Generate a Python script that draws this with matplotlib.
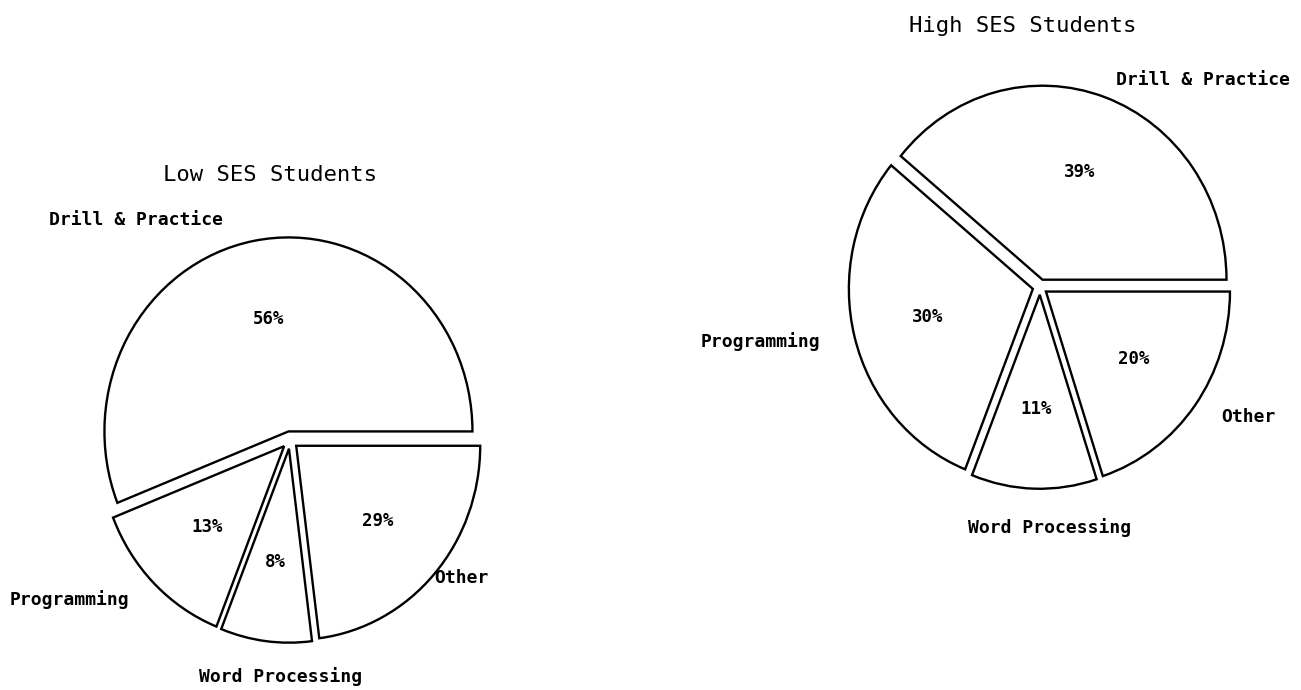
import numpy as np
import matplotlib
matplotlib.use("Agg")
import matplotlib.pyplot as plt

# data
categories = ["Drill & Practice", "Programming", "Word Processing", "Other"]
low_values = [56, 13, 8, 23]
low_pct_labels = ["56%", "13%", "8%", "29%"]
high_values = [39, 30, 11, 20]
high_pct_labels = ["39%", "30%", "11%", "20%"]

W, H = 1301, 690
plt.rcParams['font.family'] = ['DejaVu Sans Mono']

fig = plt.figure(figsize=(W / 100, H / 100), dpi=100)
fig.patch.set_facecolor("white")

rx, ry = 184, 194   # pie radius in pixels (slightly taller than wide)
lim = 1.2


def pie_axes(cx, cy):
    # axes in pixel units so that one data unit = rx px across and ry px up
    w = 2 * lim * rx
    h = 2 * lim * ry
    return fig.add_axes([(cx - w / 2) / W, (H - cy - h / 2) / H, w / W, h / H])


def draw_pie(ax, values, pct_labels, explode):
    wedges, _ = ax.pie(values, startangle=0, counterclock=True,
                       explode=[explode] * len(values),
                       wedgeprops=dict(facecolor="white", edgecolor="black", linewidth=1.7))
    for w, lab in zip(wedges, pct_labels):
        ang = np.deg2rad((w.theta1 + w.theta2) / 2)
        x = w.center[0] + 0.59 * w.r * np.cos(ang)
        y = w.center[1] + 0.59 * w.r * np.sin(ang)
        ax.text(x, y, lab, ha="center", va="center", fontsize=12.5, fontweight="bold")
    ax.set_aspect("auto")
    ax.set_xlim(-lim, lim)
    ax.set_ylim(-lim, lim)
    ax.axis("off")


def label(x, y, s, size=13, weight="bold"):
    fig.text(x / W, 1 - y / H, s, ha="center", va="center", fontsize=size, fontweight=weight)


# Low SES pie
ax1 = pie_axes(290, 440)
draw_pie(ax1, low_values, low_pct_labels, 0.045)
label(270, 175, "Low SES Students", size=16, weight="normal")
label(136, 220, categories[0])
label(69, 600, categories[1])
label(281, 677, categories[2])
label(461, 578, categories[3])

# High SES pie
ax2 = pie_axes(1040, 287)
draw_pie(ax2, high_values, high_pct_labels, 0.04)
label(1023, 26, "High SES Students", size=16, weight="normal")
label(1203, 80, categories[0])
label(760, 342, categories[1])
label(1050, 528, categories[2])
label(1248, 417, categories[3])

fig.savefig("out.png", dpi=100, facecolor="white")
